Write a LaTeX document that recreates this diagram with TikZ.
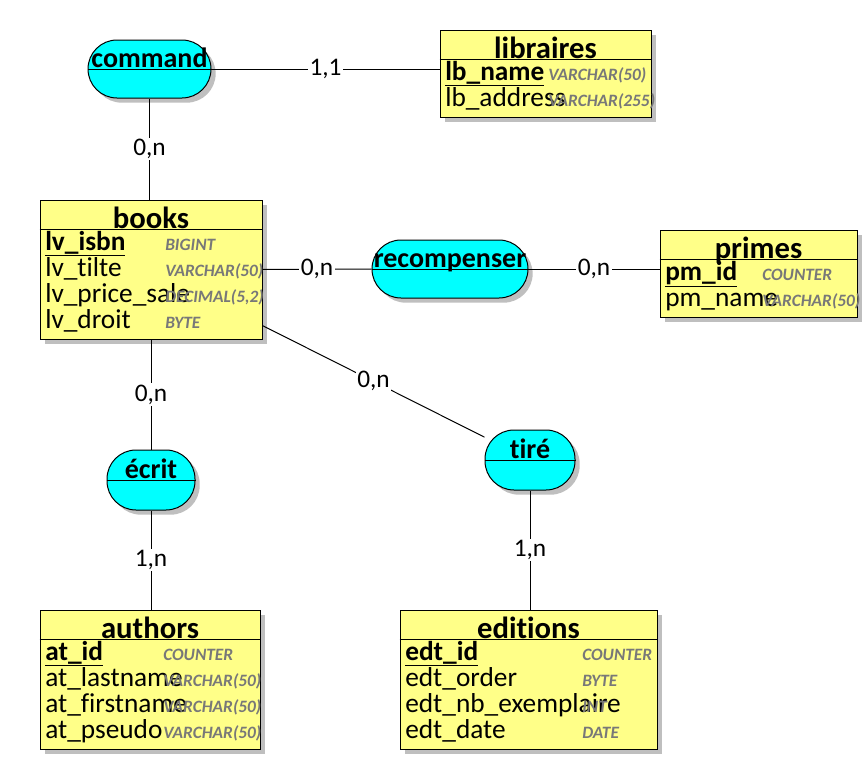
\documentclass[tikz,border=0pt]{standalone}
\usepackage{fontspec}
\setmainfont{Carlito}[Ligatures=NoCommon]
\usetikzlibrary{shadows}
\definecolor{entityyellow}{RGB}{255,255,136}
\definecolor{assoccyan}{RGB}{0,255,255}
\definecolor{typegrey}{RGB}{120,120,120}
\tikzstyle{entity}=[draw, fill=entityyellow, line width=0.75pt, drop shadow={shadow xshift=3.5pt, shadow yshift=-3.5pt, fill=black!25, opacity=1}]
\tikzstyle{association}=[draw, fill=assoccyan, line width=0.75pt, rounded corners=21.75pt, drop shadow={shadow xshift=3.5pt, shadow yshift=-3.5pt, fill=black!25, opacity=1}]
\tikzstyle{entity title}=[anchor=base, inner sep=0, font=\fontsize{23}{23}\selectfont\bfseries]
\tikzstyle{association title}=[anchor=base, inner sep=0, font=\fontsize{21}{21}\selectfont\bfseries]
\tikzstyle{field}=[anchor=base west, inner sep=0, font=\fontsize{20.5}{20.5}\selectfont]
\tikzstyle{key field}=[field, font=\fontsize{20.5}{20.5}\selectfont\bfseries]
\tikzstyle{field type}=[anchor=base west, inner sep=0, text=typegrey, font=\fontsize{13}{13}\selectfont\bfseries\itshape]
\tikzstyle{cardinality}=[fill=white, inner sep=1pt, font=\fontsize{19}{19}\selectfont]
\tikzstyle{link}=[line width=0.75pt]
\tikzstyle{split}=[line width=0.75pt]

\begin{document}
\begin{tikzpicture}[x=0.75pt, y=-0.75pt]
  \useasboundingbox (0,0) rectangle (867,760);

  \node[association, minimum width=92.25pt, minimum height=43.5pt] (command) at (149.5,69) {};
  \draw[split] (command.west) -- (command.east);
  \node[association title] (command-title) at (149.5,67) {command};

  \node[entity, minimum width=158.25pt, minimum height=65.25pt] (libraires) at (545.5,73.5) {};
  \draw[split] ([yshift=-22.5pt]libraires.north west) -- ([yshift=-22.5pt]libraires.north east);
  \node[entity title] (libraires-title) at (545.5,58) {libraires};
  \node[key field] (lb-name) at (445,80) {\underline{lb\_name}};
  \node[field type] (lb-name-type) at (548,80) {VARCHAR(50)};
  \node[field] (lb-address) at (445,106) {lb\_address};
  \node[field type] (lb-address-type) at (548,106) {VARCHAR(255)};

  \node[entity, minimum width=166.5pt, minimum height=104.25pt] (books) at (151,269.5) {};
  \draw[split] ([yshift=-22.5pt]books.north west) -- ([yshift=-22.5pt]books.north east);
  \node[entity title] (books-title) at (151,228) {books};
  \node[key field] (lv-isbn) at (45,250) {\underline{lv\_isbn}};
  \node[field type] (lv-isbn-type) at (165,250) {BIGINT};
  \node[field] (lv-tilte) at (45,276) {lv\_tilte};
  \node[field type] (lv-tilte-type) at (165,276) {VARCHAR(50)};
  \node[field] (lv-price) at (45,302) {lv\_price\_sale};
  \node[field type] (lv-price-type) at (165,302) {DECIMAL(5,2)};
  \node[field] (lv-droit) at (45,328) {lv\_droit};
  \node[field type] (lv-droit-type) at (165,328) {BYTE};

  \node[association, minimum width=117pt, minimum height=43.5pt] (recompenser) at (450,269) {};
  \draw[split] (recompenser.west) -- (recompenser.east);
  \node[association title] (recompenser-title) at (450,267) {recompenser};

  \node[entity, minimum width=147.75pt, minimum height=65.25pt] (primes) at (758.5,273.5) {};
  \draw[split] ([yshift=-22.5pt]primes.north west) -- ([yshift=-22.5pt]primes.north east);
  \node[entity title] (primes-title) at (758.5,258) {primes};
  \node[key field] (pm-id) at (665,280) {\underline{pm\_id}};
  \node[field type] (pm-id-type) at (762,280) {COUNTER};
  \node[field] (pm-name) at (665,306) {pm\_name};
  \node[field type] (pm-name-type) at (762,306) {VARCHAR(50)};

  \node[association, minimum width=66pt, minimum height=45pt] (ecrit) at (151,480) {};
  \draw[split] (ecrit.west) -- (ecrit.east);
  \node[association title] (ecrit-title) at (151,478) {écrit};

  \node[association, minimum width=67.5pt, minimum height=45pt] (tire) at (530,460) {};
  \draw[split] (tire.west) -- (tire.east);
  \node[association title] (tire-title) at (530,458) {tiré};

  \node[entity, minimum width=165pt, minimum height=104.25pt] (authors) at (150,679.5) {};
  \draw[split] ([yshift=-22.5pt]authors.north west) -- ([yshift=-22.5pt]authors.north east);
  \node[entity title] (authors-title) at (150,638) {authors};
  \node[key field] (at-id) at (45,660) {\underline{at\_id}};
  \node[field type] (at-id-type) at (163,660) {COUNTER};
  \node[field] (at-lastname) at (45,686) {at\_lastname};
  \node[field type] (at-lastname-type) at (163,686) {VARCHAR(50)};
  \node[field] (at-firstname) at (45,712) {at\_firstname};
  \node[field type] (at-firstname-type) at (163,712) {VARCHAR(50)};
  \node[field] (at-pseudo) at (45,738) {at\_pseudo};
  \node[field type] (at-pseudo-type) at (163,738) {VARCHAR(50)};

  \node[entity, minimum width=192.75pt, minimum height=104.25pt] (editions) at (528.5,679.5) {};
  \draw[split] ([yshift=-22.5pt]editions.north west) -- ([yshift=-22.5pt]editions.north east);
  \node[entity title] (editions-title) at (528.5,638) {editions};
  \node[key field] (edt-id) at (405,660) {\underline{edt\_id}};
  \node[field type] (edt-id-type) at (582,660) {COUNTER};
  \node[field] (edt-order) at (405,686) {edt\_order};
  \node[field type] (edt-order-type) at (582,686) {BYTE};
  \node[field] (edt-nb) at (405,712) {edt\_nb\_exemplaire};
  \node[field type] (edt-nb-type) at (582,712) {INT};
  \node[field] (edt-date) at (405,738) {edt\_date};
  \node[field type] (edt-date-type) at (582,738) {DATE};

  \draw[link] (command.east) to node[cardinality] {1,1} (command.east -| libraires.west);
  \draw[link] (command.south) to node[cardinality] {0,n} (command.south |- books.north);
  \draw[link] (books) to node[cardinality] {0,n} (recompenser);
  \draw[link] (recompenser.east) to node[cardinality] {0,n} (recompenser.east -| primes.west);
  \draw[link] (books) to node[cardinality] {0,n} (tire);
  \draw[link] (books.south -| ecrit.north) to node[cardinality] {0,n} (ecrit.north);
  \draw[link] (ecrit.south) to node[cardinality] {1,n} (ecrit.south |- authors.north);
  \draw[link] (tire.south) to node[cardinality] {1,n} (tire.south |- editions.north);
\end{tikzpicture}
\end{document}
